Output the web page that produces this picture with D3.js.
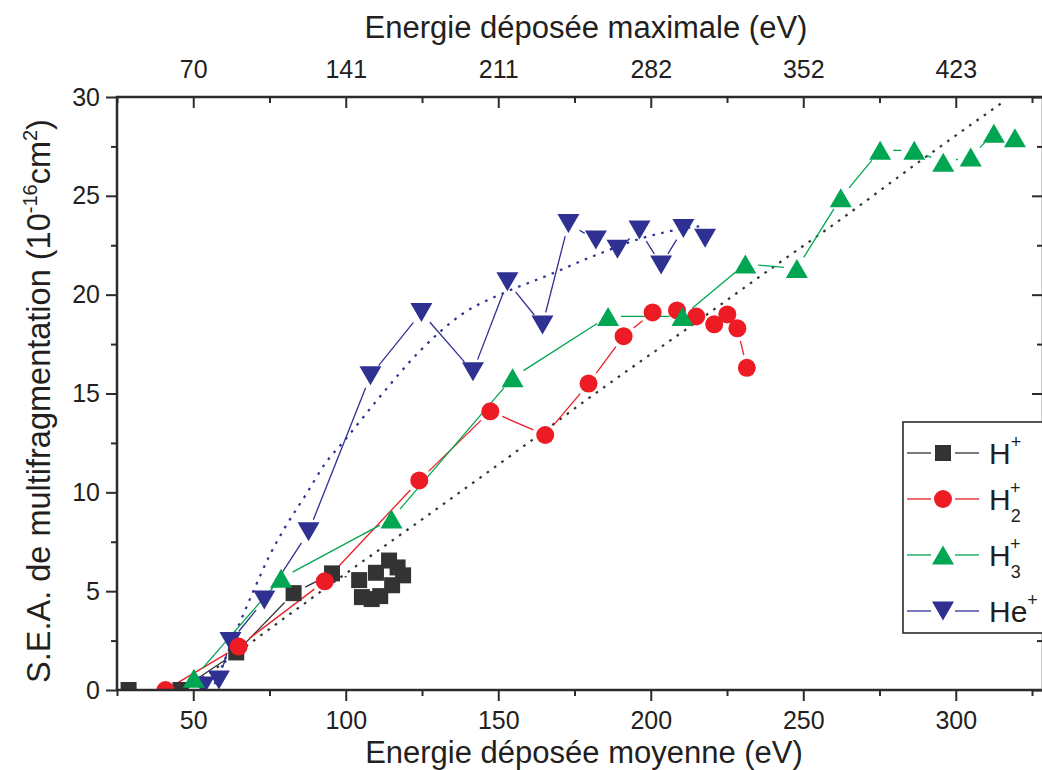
<!DOCTYPE html>
<html><head><meta charset="utf-8">
<script src="https://cdn.jsdelivr.net/npm/d3@7"></script>
<style>
body{margin:0;background:#fff}
svg{display:block}
text{font-family:"Liberation Sans",Arial,Helvetica,sans-serif;fill:#231f20}
</style>
</head><body>
<svg id="c" width="1042" height="770"></svg>
<script>
// ---- data ----
const xTicks = [50, 100, 150, 200, 250, 300];
const xMinor = [25, 75, 125, 175, 225, 275, 325];
const topTickLabels = ["70", "141", "211", "282", "352", "423"];
const yTicks = [0, 5, 10, 15, 20, 25, 30];
const yMinor = [2.5, 7.5, 12.5, 17.5, 22.5, 27.5];

const hPlusE = [28.8, 45.8, 64.1, 82.9, 95.5, 104.4, 105.3, 108.5, 111.3, 109.9, 114.2, 115.2, 117.0, 118.8];
const hPlusV = [0, 0, 1.9, 4.9, 5.9, 5.56, 4.7, 4.6, 4.75, 5.93, 6.55, 5.3, 6.2, 5.8];

const h2E = [40.9, 64.9, 93.1, 124.1, 147.4, 165.4, 179.6, 191.1, 200.6, 208.6, 214.9, 220.8, 225.1, 228.4, 231.5];
const h2V = [0, 2.2, 5.5, 10.6, 14.1, 12.9, 15.5, 17.9, 19.1, 19.2, 18.9, 18.5, 19.0, 18.3, 16.3];

const h3E = [50.2, 78.8, 115, 154.7, 186, 210.4, 231, 247.9, 262.3, 275.2, 286.4, 295.9, 304.9, 312.5, 319.4];
const h3V = [0.6, 5.65, 8.65, 15.8, 18.9, 18.9, 21.55, 21.33, 24.9, 27.3, 27.3, 26.7, 26.97, 28.16, 27.94];

const heE = [53.4, 58.4, 62.2, 73.3, 87.8, 108.1, 124.8, 141.7, 153, 164.5, 173, 182, 189.1, 196.3, 203.4, 210.7, 217.8];
const heV = [0.2, 0.5, 2.45, 4.55, 8.0, 15.9, 19.1, 16.1, 20.65, 18.46, 23.6, 22.76, 22.3, 23.27, 21.5, 23.35, 22.85];

// fit curves (dotted)
const fitHeE = [57, 60, 65, 70, 75, 80, 87, 93, 100, 111, 124, 138, 152, 165, 182, 198, 211, 218];
const fitHeV = [0.3, 1.4, 3.3, 5.1, 6.8, 8.2, 9.9, 11.4, 12.7, 14.8, 17.1, 19.0, 20.1, 20.9, 22.0, 22.9, 23.35, 23.5];
const fitLinE = [48, 57, 76, 101, 122, 158, 180, 213, 242, 264, 286, 316];
const fitLinV = [0.1, 1.05, 3.2, 6.0, 8.3, 12.3, 14.8, 18.4, 21.6, 24.0, 26.5, 29.8];

const seriesNames = ["H", "H", "H", "He"];

// ---- layout ----
const svg = d3.select("#c");
const L = 117, R = 1043, T = 97, B = 690;
const x = d3.scaleLinear().domain([25, 328.6]).range([L, R]);
const y = d3.scaleLinear().domain([0, 30]).range([B, T]);
const axisCol = "#2b2b2b";

svg.append("defs").append("clipPath").attr("id", "clip")
  .append("rect").attr("x", L).attr("y", T).attr("width", R - L).attr("height", B - T);

const COL = {k: "#333333", r: "#ed1c24", g: "#00a651", b: "#2e3192"};

// ---- fits ----
const lineGen = d3.line().x(d => x(d[0])).y(d => y(d[1])).curve(d3.curveMonotoneX);
const plot = svg.append("g").attr("clip-path", "url(#clip)");
plot.append("path").datum(fitLinE.map((e, i) => [e, fitLinV[i]]))
  .attr("d", lineGen).attr("fill", "none").attr("stroke", "#333").attr("stroke-width", 2.2)
  .attr("stroke-dasharray", "2.6,6.4");
plot.append("path").datum(fitHeE.map((e, i) => [e, fitHeV[i]]))
  .attr("d", lineGen).attr("fill", "none").attr("stroke", COL.b).attr("stroke-width", 2.2)
  .attr("stroke-dasharray", "2.6,6.4");

// ---- series ----
const tri = (w, h, down) => down
  ? `M0,${h / 2}L${w / 2},${-h / 2}L${-w / 2},${-h / 2}Z`
  : `M0,${-h / 2}L${w / 2},${h / 2}L${-w / 2},${h / 2}Z`;
const shapes = {
  sq: "M-8,-8H8V8H-8Z",
  ci: d3.symbol(d3.symbolCircle, Math.PI * 81)(),
  up: tri(22, 19, false),
  dn: tri(22, 19, true)
};

const series = [
  {E: hPlusE, V: hPlusV, col: COL.k, shape: "sq"},
  {E: heE, V: heV, col: COL.b, shape: "dn"},
  {E: h2E, V: h2V, col: COL.r, shape: "ci"},
  {E: h3E, V: h3V, col: COL.g, shape: "up"}
];

function gapSegments(pts, gap) {
  const segs = [];
  for (let i = 0; i < pts.length - 1; i++) {
    const [x1, y1] = pts[i], [x2, y2] = pts[i + 1];
    const dx = x2 - x1, dy = y2 - y1, len = Math.hypot(dx, dy);
    if (len <= 2 * gap + 1) continue;
    const ux = dx / len, uy = dy / len;
    segs.push([x1 + ux * gap, y1 + uy * gap, x2 - ux * gap, y2 - uy * gap]);
  }
  return segs;
}

// lines first, then markers
series.forEach(s => {
  const pts = s.E.map((e, i) => [x(e), y(s.V[i])]);
  plot.append("g").selectAll("line").data(gapSegments(pts, 13)).join("line")
    .attr("x1", d => d[0]).attr("y1", d => d[1]).attr("x2", d => d[2]).attr("y2", d => d[3])
    .attr("stroke", s.col).attr("stroke-width", 1.3);
});
series.forEach(s => {
  plot.append("g").selectAll("path").data(s.E.map((e, i) => [e, s.V[i]])).join("path")
    .attr("transform", d => `translate(${x(d[0])},${y(d[1])})`)
    .attr("d", shapes[s.shape]).attr("fill", s.col);
});

// ---- axes ----
function styleAxis(g) {
  g.select(".domain").remove();
  g.selectAll(".tick line").attr("stroke", axisCol).attr("stroke-width", 2);
  g.selectAll(".tick text").attr("font-size", 25).attr("fill", "#231f20")
    .attr("font-family", '"Liberation Sans",Arial,sans-serif');
}
svg.append("g").attr("transform", `translate(0,${B})`)
  .call(d3.axisBottom(x).tickValues(xTicks).tickSizeInner(11).tickSizeOuter(0).tickPadding(10))
  .call(styleAxis);
svg.append("g").attr("transform", `translate(0,${B})`)
  .call(d3.axisBottom(x).tickValues(xMinor).tickFormat("").tickSizeInner(6).tickSizeOuter(0))
  .call(styleAxis);
svg.append("g").attr("transform", `translate(0,${T})`)
  .call(d3.axisTop(x).tickValues(xTicks).tickFormat((d, i) => topTickLabels[i]).tickSizeInner(-11).tickSizeOuter(0).tickPadding(19))
  .call(styleAxis);
svg.append("g").attr("transform", `translate(0,${T})`)
  .call(d3.axisTop(x).tickValues(xMinor).tickFormat("").tickSizeInner(-6).tickSizeOuter(0))
  .call(styleAxis);
svg.append("g").attr("transform", `translate(${L},0)`)
  .call(d3.axisLeft(y).tickValues(yTicks).tickSizeInner(11).tickSizeOuter(0).tickPadding(6))
  .call(styleAxis);
svg.append("g").attr("transform", `translate(${L},0)`)
  .call(d3.axisLeft(y).tickValues(yMinor).tickFormat("").tickSizeInner(6).tickSizeOuter(0))
  .call(styleAxis);
svg.append("g").attr("transform", `translate(${R},0)`)
  .call(d3.axisRight(y).tickValues(yTicks).tickFormat("").tickSizeInner(-11).tickSizeOuter(0))
  .call(styleAxis);
svg.append("g").attr("transform", `translate(${R},0)`)
  .call(d3.axisRight(y).tickValues(yMinor).tickFormat("").tickSizeInner(-6).tickSizeOuter(0))
  .call(styleAxis);

// frame
svg.append("rect").attr("x", L).attr("y", T).attr("width", R - L).attr("height", B - T)
  .attr("fill", "none").attr("stroke", axisCol).attr("stroke-width", 2.5);

// ---- titles ----
svg.append("text").attr("x", 584).attr("y", 763).attr("text-anchor", "middle")
  .attr("font-size", 31).text("Energie déposée moyenne (eV)");
svg.append("text").attr("x", 586).attr("y", 38).attr("text-anchor", "middle")
  .attr("font-size", 31).text("Energie déposée maximale (eV)");
const yt = svg.append("text").attr("transform", "translate(50,401) rotate(-90)")
  .attr("text-anchor", "middle").attr("font-size", 32.5);
yt.append("tspan").text("S.E.A. de multifragmentation (10");
yt.append("tspan").attr("font-size", 20).attr("dy", -13).text("-16");
yt.append("tspan").attr("dy", 13).text("cm");
yt.append("tspan").attr("font-size", 20).attr("dy", -13).text("2");
yt.append("tspan").attr("dy", 13).text(")");

// ---- legend ----
const lg = svg.append("g");
lg.append("rect").attr("x", 903).attr("y", 422).attr("width", 160).attr("height", 211)
  .attr("fill", "#fff").attr("stroke", axisCol).attr("stroke-width", 1.6);
const legRows = [
  {y: 453, col: COL.k, shape: "sq", name: seriesNames[0], sub: null},
  {y: 499, col: COL.r, shape: "ci", name: seriesNames[1], sub: "2"},
  {y: 555, col: COL.g, shape: "up", name: seriesNames[2], sub: "3"},
  {y: 611, col: COL.b, shape: "dn", name: seriesNames[3], sub: null}
];
legRows.forEach(r => {
  lg.append("line").attr("x1", 907).attr("x2", 931).attr("y1", r.y).attr("y2", r.y)
    .attr("stroke", r.col).attr("stroke-width", 1.3);
  lg.append("line").attr("x1", 955).attr("x2", 979).attr("y1", r.y).attr("y2", r.y)
    .attr("stroke", r.col).attr("stroke-width", 1.3);
  lg.append("path").attr("transform", `translate(943,${r.y})`).attr("d", shapes[r.shape]).attr("fill", r.col);
  const t = lg.append("text").attr("x", 989).attr("y", r.y + 11).attr("font-size", 30);
  t.append("tspan").text(r.name);
  if (r.sub) {
    t.append("tspan").attr("font-size", 18).attr("dy", 12).text(r.sub);
    t.append("tspan").attr("font-size", 18).attr("x", 1010).attr("dy", -28).text("+");
  } else {
    t.append("tspan").attr("font-size", 18).attr("dy", -16).text("+");
  }
});
</script>
</body></html>
